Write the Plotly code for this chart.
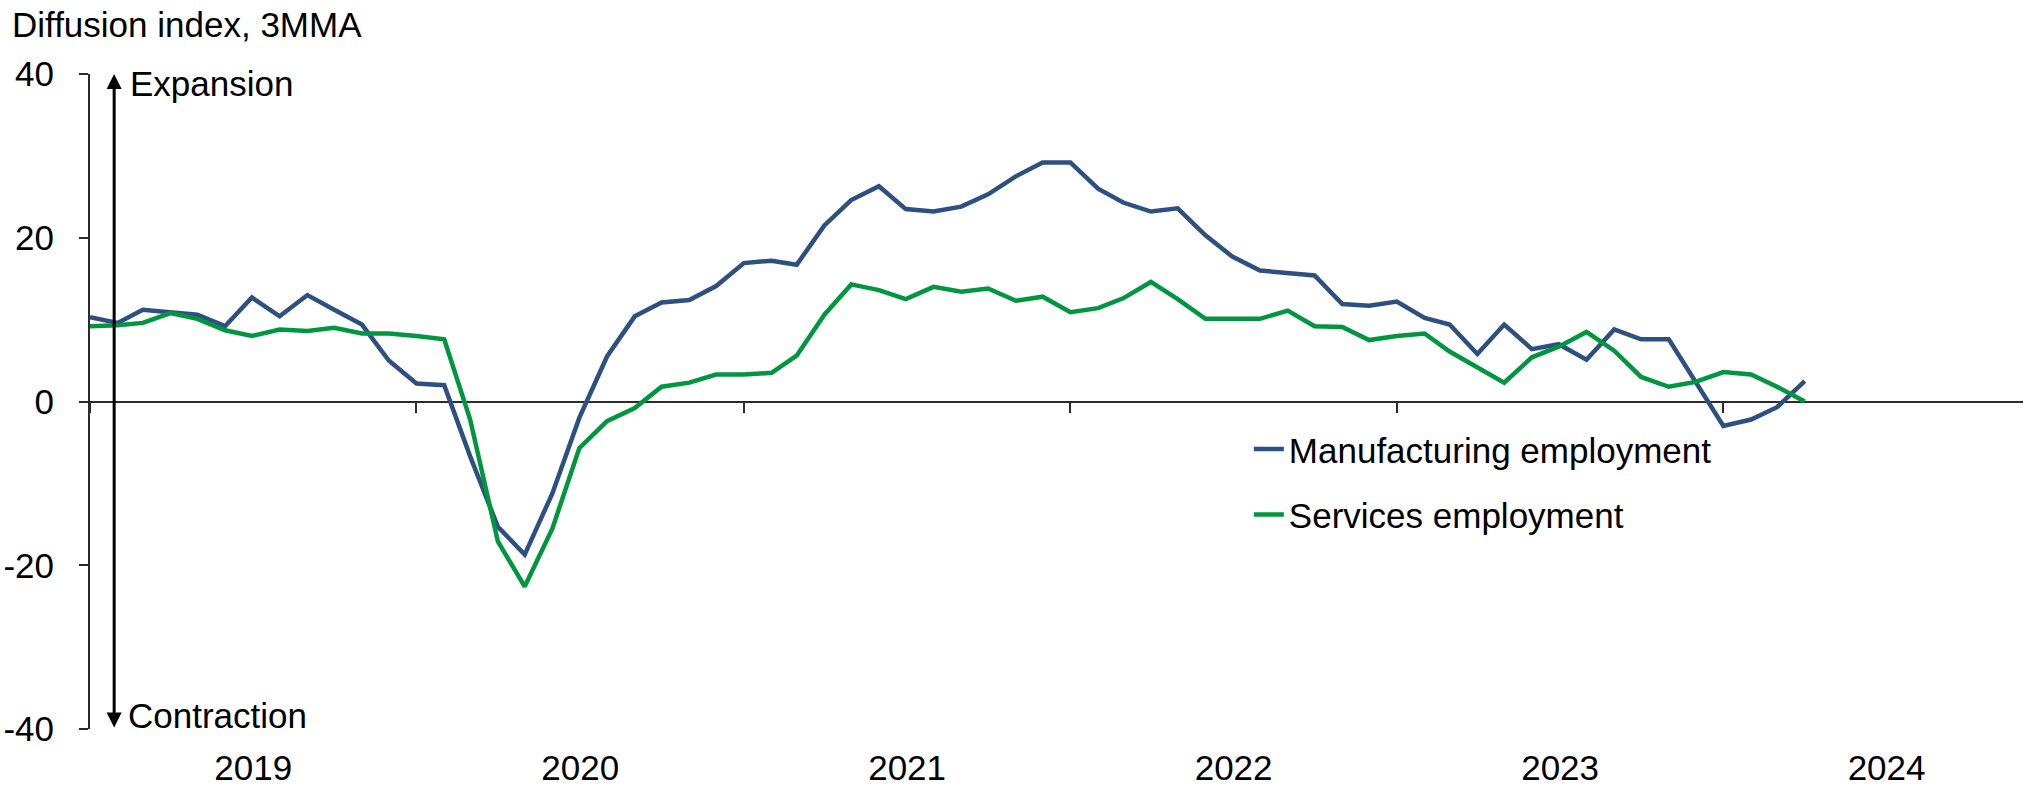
import pandas as pd
import plotly.graph_objects as go

# Monthly diffusion indices (3-month moving average), Jan 2019 - Apr 2024
months = pd.date_range("2019-01-01", "2024-04-01", freq="MS")

manufacturing = [
    10.3, 9.6, 11.2, 10.9, 10.6, 9.2, 12.7, 10.4, 13.0, 11.2, 9.4, 5.0,
    2.2, 2.0, -6.7, -15.3, -18.7, -11.2, -2.0, 5.5, 10.4, 12.1, 12.4, 14.1,
    16.9, 17.2, 16.7, 21.5, 24.6, 26.3, 23.5, 23.2, 23.8, 25.3, 27.5, 29.2,
    29.2, 26.0, 24.3, 23.2, 23.6, 20.3, 17.7, 16.0, 15.7, 15.4, 11.9, 11.7,
    12.2, 10.2, 9.4, 5.8, 9.4, 6.4, 7.0, 5.1, 8.8, 7.6, 7.6, 2.4,
    -3.0, -2.2, -0.7, 2.5,
]

services = [
    9.2, 9.3, 9.6, 10.8, 10.1, 8.7, 8.0, 8.8, 8.6, 9.0, 8.3, 8.3,
    8.0, 7.6, -2.2, -17.1, -22.6, -15.5, -5.7, -2.4, -0.8, 1.8, 2.3, 3.3,
    3.3, 3.5, 5.6, 10.6, 14.3, 13.6, 12.5, 14.0, 13.4, 13.8, 12.3, 12.8,
    10.9, 11.4, 12.6, 14.6, 12.5, 10.1, 10.1, 10.1, 11.1, 9.2, 9.1, 7.5,
    8.0, 8.3, 6.1, 4.1, 2.3, 5.4, 6.7, 8.5, 6.2, 3.0, 1.8, 2.4,
    3.6, 3.3, 1.8, 0.0,
]

series_names = ["Manufacturing employment", "Services employment"]
y_ticks = [-40, -20, 0, 20, 40]
y_tick_labels = [str(v) for v in y_ticks]

BLUE = "#2E5080"
GREEN = "#00963F"
AXIS = "#2B2B2B"
FONT = "Liberation Sans, Arial, sans-serif"
SIZE = 35

fig = go.Figure()
fig.add_trace(go.Scatter(
    x=months, y=manufacturing, name=series_names[0], mode="lines",
    line=dict(color=BLUE, width=4.5), legendgroup="mfg",
))
fig.add_trace(go.Scatter(
    x=months, y=services, name=series_names[1], mode="lines",
    line=dict(color=GREEN, width=4.5), legendgroup="svc",
))

fig.update_layout(
    width=2034, height=788, autosize=False,
    margin=dict(l=90, r=11, t=74, b=59),
    paper_bgcolor="white", plot_bgcolor="white",
    font=dict(family=FONT, size=SIZE, color="black"),
    showlegend=True,
    legend=dict(
        x=0.5995, y=0.472, xanchor="left", yanchor="top",
        font=dict(size=SIZE), tracegroupgap=17, bgcolor="rgba(0,0,0,0)",
        itemwidth=30,
    ),
    xaxis=dict(
        type="date", range=["2019-01-01", "2024-12-01"],
        anchor="free", position=0.5, automargin=False,
        showline=False, showgrid=False, zeroline=False,
        ticks="outside", ticklen=10, tickwidth=2, tickcolor=AXIS,
        tick0="2019-01-01", dtick="M12", tickformat="%Y",
        ticklabelmode="period", ticklabelstandoff=325,
        tickfont=dict(size=SIZE, color="black"),
    ),
    yaxis=dict(
        range=[-40, 40], tickvals=y_ticks, ticktext=y_tick_labels,
        automargin=False,
        showline=True, linecolor=AXIS, linewidth=2,
        ticks="outside", ticklen=9, tickwidth=2, tickcolor=AXIS,
        zeroline=True, zerolinecolor=AXIS, zerolinewidth=2,
        showgrid=False, ticklabelstandoff=18,
        tickfont=dict(size=SIZE, color="black"),
    ),
)

# Expansion / contraction direction arrow
fig.add_annotation(
    x="2019-01-28", y=40, ax="2019-01-28", ay=-40,
    xref="x", yref="y", axref="x", ayref="y",
    text="", showarrow=True, arrowside="end+start",
    arrowhead=2, startarrowhead=2, arrowsize=1, startarrowsize=1,
    arrowwidth=3, arrowcolor="black", standoff=0, startstandoff=0,
)
fig.add_annotation(
    x=0.0197, xref="paper", y=38.8, yref="y",
    text="Expansion", showarrow=False, xanchor="left", yanchor="middle",
    font=dict(size=SIZE, color="black"),
)
fig.add_annotation(
    x=0.0186, xref="paper", y=-38.3, yref="y",
    text="Contraction", showarrow=False, xanchor="left", yanchor="middle",
    font=dict(size=SIZE, color="black"),
)
fig.add_annotation(
    x=-0.0414, xref="paper", y=1.075, yref="paper",
    text="Diffusion index, 3MMA", showarrow=False,
    xanchor="left", yanchor="middle",
    font=dict(size=SIZE, color="black"),
)

fig.write_html("out.html")
